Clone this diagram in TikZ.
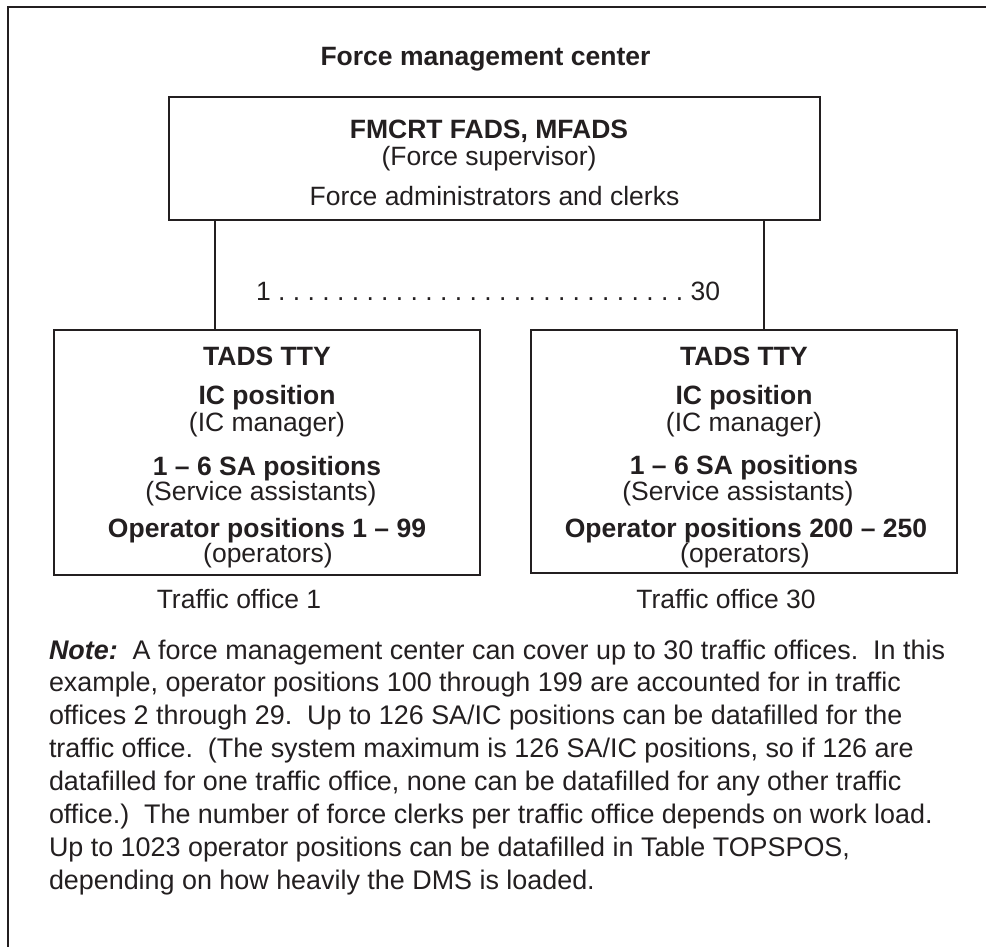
\documentclass[tikz,border=0pt]{standalone}
\usepackage{fontspec}
\setmainfont{Liberation Sans}
\definecolor{ink}{HTML}{231F20}
\begin{document}
\frenchspacing
\begin{tikzpicture}[x=1pt,y=-1pt,
  every node/.style={text=ink, inner sep=0pt, outer sep=0pt},
  frame/.style={draw=ink, line width=1.3pt},
  box/.style={draw=ink, line width=2.2pt, minimum width=426pt},
  link/.style={draw=ink, line width=2pt},
  txt/.style={anchor=base, font=\fontsize{26.5}{30}\selectfont},
  boldtxt/.style={anchor=base, font=\fontsize{26.5}{30}\selectfont\bfseries},
  notetext/.style={anchor=base west, font=\fontsize{26.9}{32}\selectfont}]
\useasboundingbox (0,0) rectangle (986,947);

% open outer frame (left and top edges only)
\coordinate (frameTR) at (986,7);
\coordinate (frameTL) at (8,7);
\coordinate (frameBL) at (8,947);
\draw[frame] (frameTR) -- (frameTL) -- (frameBL);

% boxes
\node[box, minimum width=651pt, minimum height=123pt] (fmc) at (494.5,158.5) {};
\node[box, minimum height=245pt] (to1) at (267,452.5) {};
\node[box, minimum height=243pt] (to30) at (744,451.5) {};

% connectors
\coordinate (c1) at (215,0);
\coordinate (c30) at (764,0);
\draw[link] (fmc.south -| c1) -- (to1.north -| c1);
\draw[link] (fmc.south -| c30) -- (to30.north -| c30);

% force management center
\node[boldtxt] (title) at (485.5,66) {Force management center};
\node[boldtxt] (fm1) at (489,139) {FMCRT FADS, MFADS};
\node[txt] (fm2) at (489,166) {(Force supervisor)};
\node[txt] (fm3) at (494.5,205) {Force administrators and clerks};
\node[txt] (range) at (488,300) {1 . . . . . . . . . . . . . . . . . . . . . . . . . . . . 30};

% traffic office 1
\node[boldtxt] (a1) at (267,365) {TADS TTY};
\node[boldtxt] (a2) at (267,404) {IC position};
\node[txt] (a3) at (267,431) {(IC manager)};
\node[boldtxt] (a4) at (267,475) {1 \textendash\ 6 SA positions};
\node[txt] (a5) at (261,500) {(Service assistants)};
\node[boldtxt] (a6) at (267,537) {Operator positions 1 \textendash\ 99};
\node[txt] (a7) at (268,562) {(operators)};
\node[txt] (l1) at (239,608) {Traffic office 1};

% traffic office 30
\node[boldtxt] (b1) at (744,365) {TADS TTY};
\node[boldtxt] (b2) at (744,404) {IC position};
\node[txt] (b3) at (744,431) {(IC manager)};
\node[boldtxt] (b4) at (744,474) {1 \textendash\ 6 SA positions};
\node[txt] (b5) at (738,500) {(Service assistants)};
\node[boldtxt] (b6) at (746,537) {Operator positions 200 \textendash\ 250};
\node[txt] (b7) at (745,562) {(operators)};
\node[txt] (l30) at (726,608) {Traffic office 30};

% note
\node[notetext] (n1) at (49,659.0) {\textbf{\textit{Note:}}\ \ A force management center can cover up to 30 traffic offices.\ \ In this};
\node[notetext] (n2) at (49,691.9) {example, operator positions 100 through 199 are accounted for in traffic};
\node[notetext] (n3) at (49,724.8) {offices 2 through 29.\ \ Up to 126 SA/IC positions can be datafilled for the};
\node[notetext] (n4) at (49,757.7) {traffic office.\ \ (The system maximum is 126 SA/IC positions, so if 126 are};
\node[notetext] (n5) at (49,790.6) {datafilled for one traffic office, none can be datafilled for any other traffic};
\node[notetext] (n6) at (49,823.5) {office.)\ \ The number of force clerks per traffic office depends on work load.};
\node[notetext] (n7) at (49,856.4) {Up to 1023 operator positions can be datafilled in Table TOPSPOS,};
\node[notetext] (n8) at (49,889.3) {depending on how heavily the DMS is loaded.};
\end{tikzpicture}
\end{document}
